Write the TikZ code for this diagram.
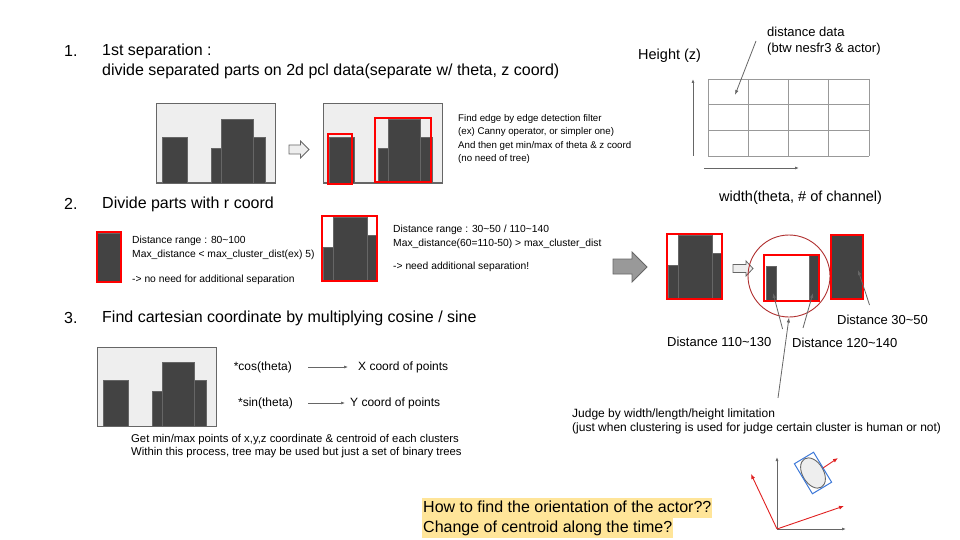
\documentclass[tikz,border=0pt]{standalone}
\usepackage{fontspec}
\setmainfont{Liberation Sans}
\usetikzlibrary{arrows.meta}
\definecolor{slabgray}{HTML}{434343}
\definecolor{panelgray}{HTML}{EEEEEE}
\definecolor{rimgray}{HTML}{666666}
\definecolor{linegray}{HTML}{999999}
\definecolor{cutred}{HTML}{FF0000}
\definecolor{ringred}{HTML}{B03030}
\definecolor{arrred}{HTML}{E02020}
\definecolor{boxblue}{HTML}{3C78D8}
\definecolor{notehl}{HTML}{FFE599}
\begin{document}
\begin{tikzpicture}[x=1pt,y=1pt]
\tikzstyle{every node}+=[inner sep=0pt,anchor=west]
\tikzstyle{head}=[font=\fontsize{16}{20}\selectfont]
\tikzstyle{axlab}=[font=\fontsize{14.5}{17}\selectfont]
\tikzstyle{dlab}=[font=\fontsize{13}{16}\selectfont,align=left]
\tikzstyle{slab}=[fill=slabgray,draw=rimgray,line width=0.6]
\tikzstyle{cut}=[draw=cutred,line width=1.2]
\tikzstyle{hollow}=[fill=panelgray,draw=rimgray,line width=0.8]
\tikzstyle{ptr}=[draw=rimgray,line width=0.8,-{Latex[length=5pt,width=3.5pt]}]
\tikzstyle{redptr}=[draw=arrred,line width=0.9,-{Latex[length=5pt,width=4pt]}]
\tikzstyle{ask}=[font=\fontsize{16}{20}\selectfont,fill=notehl,inner xsep=1pt,text height=12.5pt,text depth=4.5pt,inner ysep=1.5pt]
\useasboundingbox (0,0) rectangle (960,-540);
\draw (64,-51) node[head] (n1) {1.};
\draw (102,-51) node[head] (h1) {1st separation :};
\draw (102,-71) node[head] (h1b) {divide separated parts on 2d pcl data(separate w/ theta, z coord)};
\foreach \x/\y in {156/104,323/104,97/347}{
  \draw[hollow,line width=1] (\x,-\y) rectangle ++(119,-79);
  \foreach \a/\b/\t in {6/31/33,55/65/44,65/97/15,97/109/33}
    \draw[slab] (\x+\a,-\y-\t) rectangle (\x+\b,-\y-79);
}
\draw[hollow] (289,-145) -- (300.5,-145) -- (300.5,-141) -- (309,-149.5) -- (300.5,-158) -- (300.5,-154) -- (289,-154) -- cycle;
\draw[cut] (328,-134) rectangle (352,-184);
\draw[cut] (375,-118) rectangle (431,-182);
\draw (458,-139) node[font=\fontsize{9.7}{13.4}\selectfont,align=left] (edgenote) {Find edge by edge detection filter\\(ex) Canny operator, or simpler one)\\And then get min/max of theta \& z coord\\(no need of tree)};
\foreach \i in {0,...,4} \draw[linegray,line width=0.8] (708+40.25*\i,-79) -- (708+40.25*\i,-156);
\foreach \j in {0,...,3} \draw[linegray,line width=0.8] (708,-79-25.67*\j) -- (869,-79-25.67*\j);
\coordinate (zbot) at (693,-156);
\coordinate (ztop) at (693,-79);
\coordinate (wl) at (704,-168);
\coordinate (wr) at (799,-168);
\draw[ptr,-{Latex[length=4pt,width=3pt]}] (zbot) -- (ztop);
\draw[ptr,-{Latex[length=4pt,width=3pt]}] (wl) -- (wr);
\draw (638,-56) node[axlab] (hlab) {Height (z)};
\draw (719,-198) node[axlab] (wlab) {width(theta, \# of channel)};
\draw (767,-41) node[dlab] (dist) {distance data\\(btw nesfr3 \& actor)};
\coordinate (cell) at (735,-95);
\draw[ptr] ([xshift=-11pt]dist.west) -- (cell);
\draw (64,-204) node[head] (n2) {2.};
\draw (102,-204) node[head] (h2) {Divide parts with r coord};
\draw[slab] (97,-233) rectangle (120,-281);
\draw[cut] (97,-232) rectangle (121,-282);
\draw (132,-260.5) node[font=\fontsize{10.3}{14}\selectfont,align=left] (near) {Distance range : 80\textasciitilde 100\\Max\_distance < max\_cluster\_dist(ex) 5)\\[11pt]-> no need for additional separation};
\foreach \x/\y in {322/216,667/234}{
  \draw[slab] (\x+1,-\y-31) rectangle (\x+11,-\y-65);
  \draw[slab] (\x+11,-\y-1) rectangle (\x+45,-\y-65);
  \draw[slab] (\x+45,-\y-19) rectangle (\x+55,-\y-65);
  \draw[cut] (\x,-\y) rectangle (\x+55,-\y-65);
}
\draw (393,-248.5) node[font=\fontsize{10.3}{14}\selectfont,align=left] (far) {Distance range : 30\textasciitilde 50 / 110\textasciitilde 140\\Max\_distance(60=110-50) > max\_cluster\_dist\\[9pt]-> need additional separation!};
\draw[fill=linegray,draw=rimgray,line width=0.8] (613,-259) -- (632,-259) -- (632,-252) -- (647,-267) -- (632,-282) -- (632,-274) -- (613,-274) -- cycle;
\draw[hollow] (733,-264.5) -- (746,-264.5) -- (746,-261) -- (753,-268.5) -- (746,-276) -- (746,-272.5) -- (733,-272.5) -- cycle;
\node[circle,draw=ringred,line width=0.9,minimum size=82pt,anchor=center] (ring) at (789,-276) {};
\draw[slab] (766,-266) rectangle (776,-301);
\draw[slab] (809,-254) rectangle (819,-301);
\draw[cut] (764,-255) rectangle (819,-301);
\draw[slab,draw=cutred,line width=1.2] (831,-235) rectangle (863,-299);
\draw (837,-320) node[dlab] (d3050) {Distance 30\textasciitilde 50};
\draw (667,-342) node[dlab] (d110) {Distance 110\textasciitilde 130};
\draw (792,-343) node[dlab] (d120) {Distance 120\textasciitilde 140};
\coordinate (tip3050) at (858,-270);
\coordinate (tip110) at (773,-293);
\coordinate (tip120) at (813,-293);
\draw[ptr] ([shift={(-13pt,10pt)}]d3050.north) -- (tip3050);
\draw[ptr] ([shift={(11pt,8pt)}]d110.north east) -- (tip110);
\draw[ptr] ([shift={(11pt,10pt)}]d120.north west) -- (tip120);
\draw (64,-318) node[head] (n3) {3.};
\draw (102,-318) node[head] (h3) {Find cartesian coordinate by multiplying cosine / sine};
\draw (292,-367) node[font=\fontsize{12}{14}\selectfont,anchor=east] (cosl) {*cos(theta)};
\draw (293,-403) node[font=\fontsize{12}{14}\selectfont,anchor=east] (sinl) {*sin(theta)};
\draw (358,-367) node[font=\fontsize{12}{14}\selectfont] (xl) {X coord of points};
\draw (350,-403) node[font=\fontsize{12}{14}\selectfont] (yl) {Y coord of points};
\draw[ptr,line width=0.6,-{Latex[length=4pt,width=3pt]},shorten <=16pt,shorten >=10pt] (cosl.east) -- (cosl.east -| xl.west);
\draw[ptr,line width=0.6,-{Latex[length=4pt,width=3pt]},shorten <=15pt,shorten >=5pt] (sinl.east) -- (sinl.east -| yl.west);
\draw (131,-446.5) node[font=\fontsize{11.3}{13}\selectfont,align=left] (getnote) {Get min/max points of x,y,z coordinate \& centroid of each clusters\\Within this process, tree may be used but just a set of binary trees};
\draw (572,-421.5) node[font=\fontsize{12}{13.5}\selectfont,align=left] (judge) {Judge by width/length/height limitation\\(just when clustering is used for judge certain cluster is human or not)};
\draw[ptr] ([shift={(206pt,11pt)}]judge.north west) -- (ring.south);
\coordinate (orig) at (777,-529);
\draw[ptr,-{Latex[length=4pt,width=3pt]}] (orig) -- (777,-457);
\draw[ptr,-{Latex[length=4pt,width=3pt]}] (orig) -- (846,-529);
\draw[redptr] (orig) -- (751,-474);
\draw[redptr] (orig) -- (844,-506);
\begin{scope}[rotate around={31:(813,-473)}]
\draw[fill=panelgray,draw=rimgray,line width=0.9] (813,-473) ellipse (10.5 and 16.5);
\draw[boxblue,line width=1] (801.8,-490.5) rectangle (824.2,-455.5);
\end{scope}
\draw[redptr] (823,-468) -- (838,-458);
\node[ask] (ask1) at (422,-508) {How to find the orientation of the actor??};
\node[ask] (ask2) at (422,-528) {Change of centroid along the time?};
\end{tikzpicture}
\end{document}
